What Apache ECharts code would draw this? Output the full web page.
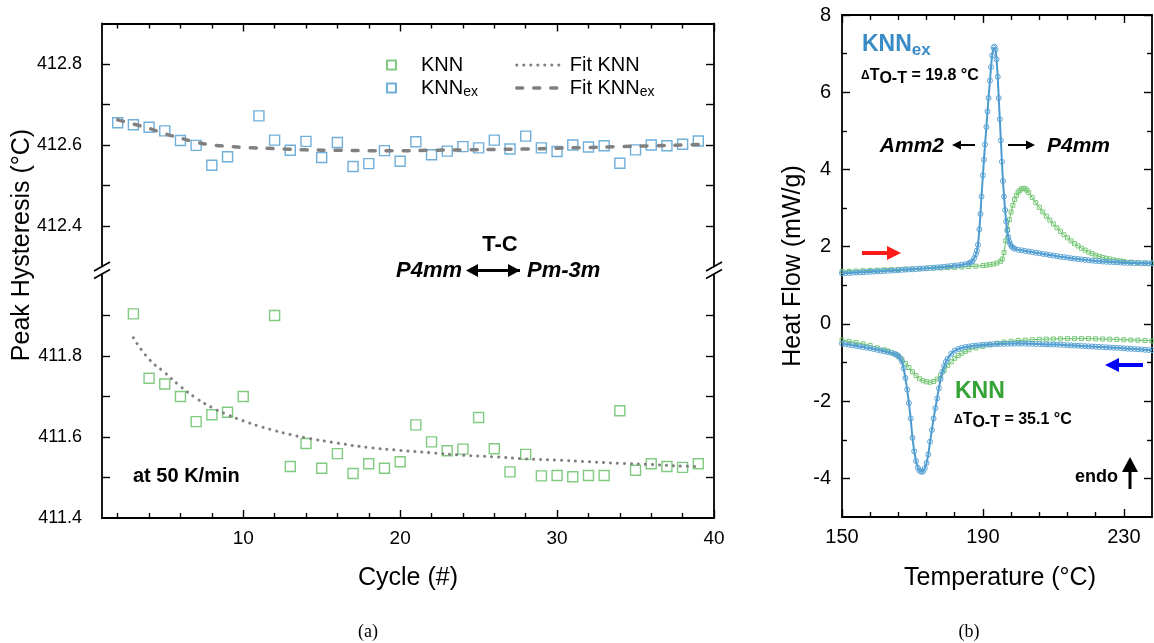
<!DOCTYPE html>
<html>
<head>
<meta charset="utf-8">
<script src="https://cdn.jsdelivr.net/npm/echarts@6/dist/echarts.min.js"></script>
<style>
  html, body { margin: 0; padding: 0; background: #fff; }
  #chart { width: 1154px; height: 643px; }
</style>
</head>
<body>
<div id="chart"></div>
<script>
// ---- (a) peak hysteresis vs. cycle ----
const knnExCycles = [2, 3, 4, 5, 6, 7, 8, 9, 11, 12, 13, 14, 15, 16, 17, 18, 19, 20, 21, 22, 23, 24, 25, 26, 27, 28, 29, 30, 31, 32, 33, 34, 35, 36, 37, 38, 39];
const knnExPeak = [412.655, 412.650, 412.644, 412.635, 412.611, 412.599, 412.550, 412.571, 412.672, 412.612, 412.587, 412.609, 412.569, 412.606, 412.547, 412.554, 412.586, 412.560, 412.608, 412.576, 412.585, 412.596, 412.593, 412.612, 412.590, 412.622, 412.593, 412.584, 412.600, 412.595, 412.598, 412.555, 412.588, 412.600, 412.598, 412.602, 412.610];

const knnCycles = [3, 4, 5, 6, 7, 8, 9, 10, 12, 13, 14, 15, 16, 17, 18, 19, 20, 21, 22, 23, 24, 25, 26, 27, 28, 29, 30, 31, 32, 33, 34, 35, 36, 37, 38, 39];
const knnPeak = [411.904, 411.745, 411.731, 411.700, 411.638, 411.655, 411.661, 411.700, 411.900, 411.527, 411.584, 411.523, 411.559, 411.510, 411.534, 411.523, 411.539, 411.630, 411.588, 411.566, 411.570, 411.648, 411.571, 411.514, 411.557, 411.504, 411.505, 411.502, 411.505, 411.505, 411.665, 411.518, 411.534, 411.527, 411.525, 411.534];

const fitKnnExCycles = [2, 3, 4, 5, 6, 7, 8, 9, 10, 12, 14, 16, 18, 20, 22, 24, 26, 28, 30, 32, 34, 36, 38, 39];
const fitKnnEx = [412.662, 412.652, 412.641, 412.628, 412.617, 412.607, 412.600, 412.597, 412.594, 412.591, 412.588, 412.587, 412.586, 412.586, 412.587, 412.588, 412.589, 412.590, 412.592, 412.594, 412.596, 412.598, 412.600, 412.601];

const fitKnnCycles = [3, 4, 5, 6, 7, 8, 9, 10, 11, 12, 13, 14, 16, 18, 20, 22, 24, 26, 28, 30, 32, 34, 36, 38, 39];
const fitKnn = [411.845, 411.792, 411.759, 411.725, 411.696, 411.673, 411.655, 411.640, 411.627, 411.616, 411.606, 411.598, 411.585, 411.574, 411.567, 411.561, 411.555, 411.551, 411.546, 411.543, 411.539, 411.535, 411.532, 411.528, 411.527];

const cycleTicks = [10, 20, 30, 40];
const cycleMinorTicks = [2, 4, 6, 8, 12, 14, 16, 18, 22, 24, 26, 28, 32, 34, 36, 38];
const upperLabels = [412.4, 412.6, 412.8];
const upperTicks = [412.4, 412.5, 412.6, 412.7, 412.8];
const lowerLabels = [411.4, 411.6, 411.8];
const lowerTicks = [411.5, 411.6, 411.7, 411.8, 411.9];

// ---- (b) DSC heat flow, [temperature °C, mW/g] ----
const knnExHeating = [[150,1.31],[151,1.315],[152,1.32],[153,1.325],[154,1.33],[155,1.335],[156,1.34],[157,1.345],[158,1.35],[159,1.355],[160,1.36],[161,1.365],[162,1.37],[163,1.375],[164,1.38],[165,1.385],[166,1.39],[167,1.40],[168,1.405],[169,1.41],[170,1.415],[171,1.42],[172,1.43],[173,1.435],[174,1.44],[175,1.45],[176,1.455],[177,1.465],[178,1.47],[179,1.48],[180,1.49],[181,1.50],[182,1.51],[183,1.52],[184,1.535],[185,1.55],[186,1.57],[186.5,1.59],[187,1.62],[187.5,1.70],[188,1.80],[188.3,1.90],[188.6,2.05],[189,2.45],[189.3,2.85],[189.6,3.30],[190,3.85],[190.3,4.25],[190.6,4.65],[191,5.10],[191.3,5.50],[191.6,5.85],[192,6.30],[192.3,6.65],[192.6,6.95],[193,7.15],[193.3,7.18],[193.6,7.10],[193.9,6.85],[194.2,6.40],[194.5,5.85],[194.8,5.30],[195.1,4.75],[195.4,4.20],[195.7,3.70],[196,3.30],[196.3,2.95],[196.6,2.65],[196.9,2.42],[197.2,2.25],[197.5,2.13],[197.8,2.06],[198.2,2.00],[198.6,1.97],[199,1.95],[200,1.92],[201,1.905],[202,1.89],[203,1.875],[204,1.86],[205,1.845],[206,1.83],[207,1.815],[208,1.80],[209,1.785],[210,1.77],[211,1.755],[212,1.74],[213,1.73],[214,1.715],[215,1.70],[216,1.69],[217,1.68],[218,1.67],[219,1.66],[220,1.65],[221,1.64],[222,1.63],[223,1.625],[224,1.615],[225,1.61],[226,1.605],[227,1.60],[228,1.595],[229,1.59],[230,1.585],[231,1.58],[232,1.58],[233,1.575],[234,1.575],[235,1.57],[236,1.57],[237,1.57],[238,1.57]];

const knnHeating = [[150,1.36],[152,1.365],[154,1.37],[156,1.38],[158,1.385],[160,1.39],[162,1.40],[164,1.405],[166,1.41],[168,1.42],[170,1.425],[172,1.43],[174,1.44],[176,1.445],[178,1.45],[180,1.46],[182,1.465],[184,1.475],[186,1.485],[188,1.495],[190,1.51],[191,1.52],[192,1.535],[193,1.55],[194,1.575],[195,1.62],[195.5,1.68],[196,1.85],[196.5,2.15],[197,2.45],[197.5,2.70],[198,2.90],[198.5,3.07],[199,3.22],[199.5,3.33],[200,3.41],[200.5,3.46],[201,3.50],[201.5,3.51],[202,3.50],[202.5,3.46],[203,3.40],[204,3.27],[205,3.14],[206,3.02],[207,2.90],[208,2.79],[209,2.69],[210,2.59],[211,2.49],[212,2.40],[213,2.31],[214,2.23],[215,2.15],[216,2.08],[217,2.02],[218,1.96],[219,1.91],[220,1.86],[221,1.82],[222,1.78],[223,1.75],[224,1.72],[225,1.70],[226,1.68],[227,1.66],[228,1.64],[229,1.63],[230,1.62],[232,1.60],[234,1.59],[236,1.58],[238,1.57]];

const knnExCooling = [[150,-0.51],[151,-0.525],[152,-0.54],[153,-0.555],[154,-0.57],[155,-0.585],[156,-0.60],[157,-0.615],[158,-0.63],[159,-0.65],[160,-0.67],[161,-0.69],[162,-0.71],[163,-0.73],[164,-0.75],[165,-0.78],[165.5,-0.80],[166,-0.83],[166.5,-0.88],[167,-0.97],[167.5,-1.15],[168,-1.40],[168.5,-1.70],[169,-2.05],[169.5,-2.45],[170,-2.95],[170.5,-3.30],[171,-3.55],[171.5,-3.72],[172,-3.80],[172.5,-3.83],[173,-3.82],[173.5,-3.74],[174,-3.60],[174.5,-3.38],[175,-3.05],[175.5,-2.75],[176,-2.45],[176.5,-2.18],[177,-1.93],[177.5,-1.67],[178,-1.43],[178.5,-1.24],[179,-1.09],[179.5,-0.98],[180,-0.90],[181,-0.77],[182,-0.69],[183,-0.65],[184,-0.62],[185,-0.60],[186,-0.585],[187,-0.57],[188,-0.56],[189,-0.55],[190,-0.54],[191,-0.535],[192,-0.53],[193,-0.525],[194,-0.52],[195,-0.52],[196,-0.515],[197,-0.515],[198,-0.51],[199,-0.51],[200,-0.51],[201,-0.51],[202,-0.51],[203,-0.515],[204,-0.515],[205,-0.52],[206,-0.52],[207,-0.525],[208,-0.53],[209,-0.53],[210,-0.535],[211,-0.535],[212,-0.54],[213,-0.545],[214,-0.55],[215,-0.555],[216,-0.56],[217,-0.565],[218,-0.57],[219,-0.575],[220,-0.58],[221,-0.585],[222,-0.59],[223,-0.595],[224,-0.60],[225,-0.605],[226,-0.61],[227,-0.615],[228,-0.62],[229,-0.625],[230,-0.63],[231,-0.64],[232,-0.645],[233,-0.65],[234,-0.655],[235,-0.66],[236,-0.67],[237,-0.675],[238,-0.68]];

const knnCooling = [[150,-0.42],[152,-0.45],[154,-0.48],[156,-0.52],[158,-0.56],[160,-0.62],[162,-0.67],[163,-0.70],[164,-0.74],[165,-0.78],[166,-0.84],[167,-0.92],[168,-1.02],[169,-1.13],[170,-1.24],[171,-1.34],[172,-1.42],[173,-1.47],[174,-1.50],[175,-1.51],[176,-1.49],[177,-1.43],[178,-1.33],[179,-1.20],[180,-1.08],[181,-0.98],[182,-0.89],[183,-0.82],[184,-0.76],[185,-0.71],[186,-0.67],[188,-0.62],[190,-0.58],[192,-0.54],[194,-0.50],[196,-0.47],[198,-0.45],[200,-0.43],[202,-0.42],[204,-0.41],[206,-0.40],[208,-0.395],[210,-0.39],[212,-0.385],[214,-0.38],[216,-0.38],[218,-0.38],[220,-0.38],[222,-0.385],[224,-0.39],[226,-0.395],[228,-0.40],[230,-0.41],[232,-0.415],[234,-0.42],[236,-0.43],[238,-0.44]];

const tempTicks = [150, 190, 230];
const tempMinorTicks = [158, 166, 174, 182, 198, 206, 214, 222];
const heatTicks = [-4, -2, 0, 2, 4, 6, 8];
const heatMinorTicks = [-3, -1, 1, 3, 5, 7];

// ---- styling ----
const FONT = 'Liberation Sans, Arial, sans-serif';
const BLUE = '#4b9bd1';
const GREEN = '#62bd62';
const BLUE_TXT = '#3a8cc6';
const GREEN_TXT = '#36a336';
const FIT = '#808080';
const AXIS = { lineStyle: { color: '#000', width: 1.8 } };
const DOTTED = { color: FIT, width: 3, type: [0.1, 6.9], cap: 'round' };
const DASHED = { color: FIT, width: 3.5, type: [6, 11], cap: 'round' };

const pairs = (xs, ys) => xs.map((x, i) => [x, ys[i]]);

function mainAxis(extra) {
  return Object.assign({
    type: 'value',
    axisLine: Object.assign({ show: true, onZero: false }, AXIS),
    splitLine: { show: false },
    axisTick: { show: true, inside: true, length: 8, lineStyle: { color: '#000', width: 1.6 } },
    axisLabel: { show: false }
  }, extra);
}
function minorAxis(extra) {
  return Object.assign({
    type: 'value',
    axisLine: { show: false, onZero: false },
    splitLine: { show: false },
    axisLabel: { show: false }
  }, extra);
}
function ticks(values, len) {
  return { show: true, inside: true, length: len, customValues: values, lineStyle: { color: '#000', width: 1.4 } };
}
function labels(values, size, margin, digits) {
  return {
    show: true, customValues: values, fontSize: size, fontFamily: FONT, color: '#000', margin: margin,
    formatter: v => digits ? Number(v).toFixed(digits) : String(v)
  };
}

const GA = { left: 102, width: 612 };
const gridTop = Object.assign({ top: 23.5, height: 243 }, GA);
const gridBot = Object.assign({ top: 275, height: 243 }, GA);
const gridR = { left: 842, width: 310, top: 15, height: 502 };

const legendRich = {
  g: { width: 20 },
  n: { fontSize: 20, fontFamily: FONT, color: '#000', lineHeight: 22 },
  s: { fontSize: 14, fontFamily: FONT, color: '#000', lineHeight: 10, verticalAlign: 'bottom' }
};
const legendName = n => ({
  'KNN': '{g|}{n|KNN}',
  'KNNex': '{g|}{n|KNN}{s|ex}',
  'Fit KNN': '{n|Fit KNN}',
  'Fit KNNex': '{n|Fit KNN}{s|ex}'
}[n]);

function arrowRight(x1, x2, y, shaft, headLen, headHalf, color) {
  return [
    { type: 'rect', shape: { x: x1, y: y - shaft / 2, width: x2 - x1 - headLen + 1, height: shaft }, style: { fill: color } },
    { type: 'polygon', shape: { points: [[x2 - headLen, y - headHalf], [x2, y], [x2 - headLen, y + headHalf]] }, style: { fill: color } }
  ];
}
function arrowLeft(x1, x2, y, shaft, headLen, headHalf, color) {
  return [
    { type: 'rect', shape: { x: x1 + headLen - 1, y: y - shaft / 2, width: x2 - x1 - headLen + 1, height: shaft }, style: { fill: color } },
    { type: 'polygon', shape: { points: [[x1 + headLen, y - headHalf], [x1, y], [x1 + headLen, y + headHalf]] }, style: { fill: color } }
  ];
}
function text(x, y, str, style, rotation) {
  return { type: 'text', x: x, y: y, rotation: rotation || 0, style: Object.assign({ text: str, fontFamily: FONT, fill: '#000' }, style) };
}

const deltaRich = {
  d: { fontSize: 12, fontWeight: 'bold', fontFamily: FONT, fill: '#000', lineHeight: 22, verticalAlign: 'middle' },
  t: { fontSize: 16, fontWeight: 'bold', fontFamily: FONT, fill: '#000', lineHeight: 22 },
  o: { fontSize: 16, fontWeight: 'bold', fontFamily: FONT, fill: '#000', lineHeight: 12, verticalAlign: 'bottom' },
  e: { fontSize: 16, fontWeight: 'bold', fontFamily: FONT, fill: '#000', lineHeight: 22 }
};

const breakMarks = [];
[102, 714].forEach(x => {
  breakMarks.push({ type: 'line', shape: { x1: x - 8, y1: 271, x2: x + 8, y2: 262 }, style: { stroke: '#000', lineWidth: 1.6 } });
  breakMarks.push({ type: 'line', shape: { x1: x - 8, y1: 278.5, x2: x + 8, y2: 269.5 }, style: { stroke: '#000', lineWidth: 1.6 } });
});

const option = {
  animation: false,
  backgroundColor: '#fff',
  grid: [
    Object.assign({}, gridTop), Object.assign({}, gridBot), Object.assign({}, gridR),
    Object.assign({}, gridTop), Object.assign({}, gridBot), Object.assign({}, gridR)
  ],
  xAxis: [
    mainAxis({ gridIndex: 0, position: 'top', min: 1, max: 40, axisTick: ticks(cycleTicks, 8) }),
    mainAxis({ gridIndex: 1, position: 'bottom', min: 1, max: 40, axisTick: ticks(cycleTicks, 8), axisLabel: labels(cycleTicks, 19, 11) }),
    mainAxis({ gridIndex: 2, position: 'bottom', min: 150, max: 238, axisTick: ticks(tempTicks, 8), axisLabel: labels(tempTicks, 20, 10) }),
    mainAxis({ gridIndex: 2, position: 'top', min: 150, max: 238, axisTick: ticks(tempTicks, 8) }),
    minorAxis({ gridIndex: 3, position: 'top', min: 1, max: 40, axisTick: ticks(cycleMinorTicks, 5) }),
    minorAxis({ gridIndex: 4, position: 'bottom', min: 1, max: 40, axisTick: ticks(cycleMinorTicks, 5) }),
    minorAxis({ gridIndex: 5, position: 'bottom', min: 150, max: 238, axisTick: ticks(tempMinorTicks, 5) }),
    minorAxis({ gridIndex: 5, position: 'top', min: 150, max: 238, axisTick: ticks(tempMinorTicks, 5) })
  ],
  yAxis: [
    mainAxis({ gridIndex: 0, position: 'left', min: 412.3, max: 412.9, axisTick: ticks(upperTicks, 8), axisLabel: labels(upperLabels, 18, 20, 1) }),
    mainAxis({ gridIndex: 0, position: 'right', min: 412.3, max: 412.9, axisTick: ticks(upperTicks, 8) }),
    mainAxis({ gridIndex: 1, position: 'left', min: 411.4, max: 412.0, axisTick: ticks(lowerTicks, 8), axisLabel: labels(lowerLabels, 18, 20, 1) }),
    mainAxis({ gridIndex: 1, position: 'right', min: 411.4, max: 412.0, axisTick: ticks(lowerTicks, 8) }),
    mainAxis({ gridIndex: 2, position: 'left', min: -5, max: 8, axisTick: ticks(heatTicks, 8), axisLabel: labels(heatTicks, 20, 11) }),
    mainAxis({ gridIndex: 2, position: 'right', min: -5, max: 8, axisTick: ticks(heatTicks, 8) }),
    minorAxis({ gridIndex: 3, min: 412.3, max: 412.9, axisTick: { show: false } }),
    minorAxis({ gridIndex: 4, min: 411.4, max: 412.0, axisTick: { show: false } }),
    minorAxis({ gridIndex: 5, position: 'left', min: -5, max: 8, axisTick: ticks(heatMinorTicks, 5) }),
    minorAxis({ gridIndex: 5, position: 'right', min: -5, max: 8, axisTick: ticks(heatMinorTicks, 5) })
  ],
  legend: [
    {
      data: ['KNN', 'KNNex'], orient: 'vertical', left: 381, top: 50,
      itemWidth: 9, itemHeight: 9, itemGap: 3, selectedMode: false,
      formatter: legendName, textStyle: { rich: legendRich }
    },
    {
      data: [
        { name: 'Fit KNN', lineStyle: DOTTED },
        { name: 'Fit KNNex', lineStyle: DASHED }
      ],
      orient: 'vertical', left: 510, top: 50,
      itemWidth: 48, itemHeight: 12, itemGap: 3, selectedMode: false,
      itemStyle: { opacity: 0 },
      formatter: legendName, textStyle: { rich: legendRich }
    }
  ],
  series: [
    {
      name: 'KNNex', type: 'scatter', xAxisIndex: 0, yAxisIndex: 0,
      symbol: 'rect', symbolSize: 10,
      itemStyle: { color: 'rgba(0,0,0,0)', borderColor: BLUE, borderWidth: 1.4 },
      data: pairs(knnExCycles, knnExPeak), z: 3
    },
    {
      name: 'Fit KNNex', type: 'line', xAxisIndex: 0, yAxisIndex: 0,
      symbol: 'none', smooth: true,
      lineStyle: DASHED,
      itemStyle: { color: FIT },
      data: pairs(fitKnnExCycles, fitKnnEx), z: 4
    },
    {
      name: 'KNN', type: 'scatter', xAxisIndex: 1, yAxisIndex: 2,
      symbol: 'rect', symbolSize: 10,
      itemStyle: { color: 'rgba(0,0,0,0)', borderColor: GREEN, borderWidth: 1.4 },
      data: pairs(knnCycles, knnPeak), z: 3
    },
    {
      name: 'Fit KNN', type: 'line', xAxisIndex: 1, yAxisIndex: 2,
      symbol: 'none', smooth: true,
      lineStyle: DOTTED,
      itemStyle: { color: FIT },
      data: pairs(fitKnnCycles, fitKnn), z: 4
    },
    {
      name: 'KNN heating', type: 'line', xAxisIndex: 2, yAxisIndex: 4,
      symbol: 'rect', symbolSize: 4, showAllSymbol: true,
      lineStyle: { color: GREEN, width: 1 },
      itemStyle: { color: 'rgba(0,0,0,0)', borderColor: '#78c878', borderWidth: 1 },
      data: knnHeating, z: 3
    },
    {
      name: 'KNN cooling', type: 'line', xAxisIndex: 2, yAxisIndex: 4,
      symbol: 'rect', symbolSize: 4, showAllSymbol: true,
      lineStyle: { color: GREEN, width: 1 },
      itemStyle: { color: 'rgba(0,0,0,0)', borderColor: '#78c878', borderWidth: 1 },
      data: knnCooling, z: 3
    },
    {
      name: 'KNNex heating', type: 'line', xAxisIndex: 2, yAxisIndex: 4,
      symbol: 'circle', symbolSize: 5, showAllSymbol: true,
      lineStyle: { color: BLUE, width: 2 },
      itemStyle: { color: 'rgba(0,0,0,0)', borderColor: '#5aa3d6', borderWidth: 1 },
      data: knnExHeating, z: 4
    },
    {
      name: 'KNNex cooling', type: 'line', xAxisIndex: 2, yAxisIndex: 4,
      symbol: 'circle', symbolSize: 5, showAllSymbol: true,
      lineStyle: { color: BLUE, width: 2 },
      itemStyle: { color: 'rgba(0,0,0,0)', borderColor: '#5aa3d6', borderWidth: 1 },
      data: knnExCooling, z: 4
    }
  ],
  graphic: {
    elements: [].concat(
      breakMarks,
      [
        // axis titles
        text(22, 245, 'Peak Hysteresis (°C)', { fontSize: 25, align: 'center', verticalAlign: 'middle' }, Math.PI / 2),
        text(408, 578, 'Cycle (#)', { fontSize: 25, align: 'center', verticalAlign: 'middle' }),
        text(1000, 578, 'Temperature (°C)', { fontSize: 25, align: 'center', verticalAlign: 'middle' }),
        text(793, 266, 'Heat Flow (mW/g)', { fontSize: 25, align: 'center', verticalAlign: 'middle' }, Math.PI / 2),
        text(368, 632, '(a)', { fontSize: 18, fontFamily: 'Liberation Serif, DejaVu Serif, serif', align: 'center', verticalAlign: 'middle' }),
        text(969, 632, '(b)', { fontSize: 18, fontFamily: 'Liberation Serif, DejaVu Serif, serif', align: 'center', verticalAlign: 'middle' }),
        // panel (a) notes
        text(500, 245, 'T-C', { fontSize: 22, fontWeight: 'bold', align: 'center', verticalAlign: 'middle' }),
        text(462, 271, 'P4mm', { fontSize: 22, fontWeight: 'bold', fontStyle: 'italic', align: 'right', verticalAlign: 'middle' }),
        text(527, 271, 'Pm-3m', { fontSize: 22, fontWeight: 'bold', fontStyle: 'italic', align: 'left', verticalAlign: 'middle' }),
        text(133, 476, 'at 50 K/min', { fontSize: 20, fontWeight: 'bold', align: 'left', verticalAlign: 'middle' }),
        // panel (b) notes
        text(862, 45, '{k|KNN}{x|ex}', {
          align: 'left', verticalAlign: 'middle',
          rich: {
            k: { fontSize: 23, fontWeight: 'bold', fontFamily: FONT, fill: BLUE_TXT, lineHeight: 28 },
            x: { fontSize: 17, fontWeight: 'bold', fontFamily: FONT, fill: BLUE_TXT, lineHeight: 14, verticalAlign: 'bottom' }
          }
        }),
        text(861, 76, '{d|Δ}{t|T}{o|O-T}{e| = 19.8 °C}', { align: 'left', verticalAlign: 'middle', rich: deltaRich }),
        text(944, 146, 'Amm2', { fontSize: 21, fontWeight: 'bold', fontStyle: 'italic', align: 'right', verticalAlign: 'middle' }),
        text(1047, 146, 'P4mm', { fontSize: 21, fontWeight: 'bold', fontStyle: 'italic', align: 'left', verticalAlign: 'middle' }),
        text(955, 392, 'KNN', { fontSize: 23, fontWeight: 'bold', fill: GREEN_TXT, align: 'left', verticalAlign: 'middle' }),
        text(954, 420, '{d|Δ}{t|T}{o|O-T}{e| = 35.1 °C}', { align: 'left', verticalAlign: 'middle', rich: deltaRich }),
        text(1075, 477, 'endo', { fontSize: 18, fontWeight: 'bold', align: 'left', verticalAlign: 'middle' }),
        { type: 'rect', shape: { x: 1128.5, y: 470, width: 3, height: 19 }, style: { fill: '#000' } },
        { type: 'polygon', shape: { points: [[1122, 472], [1130, 457], [1138, 472]] }, style: { fill: '#000' } }
      ],
      arrowLeft(466, 520, 270.5, 3, 12, 6.5, '#000'),
      [{ type: 'polygon', shape: { points: [[508, 264], [520, 270.5], [508, 277]] }, style: { fill: '#000' } }],
      arrowLeft(952, 975, 145, 2, 9, 4.5, '#000'),
      arrowRight(1008, 1035, 145, 2, 9, 4.5, '#000'),
      arrowRight(862, 901, 253, 4, 14, 7, '#ff1a1a'),
      arrowLeft(1105, 1143, 365, 4, 14, 7, '#0000ff')
    )
  }
};

const chart = echarts.init(document.getElementById('chart'), null, { renderer: 'canvas' });
chart.setOption(option);
</script>
</body>
</html>
